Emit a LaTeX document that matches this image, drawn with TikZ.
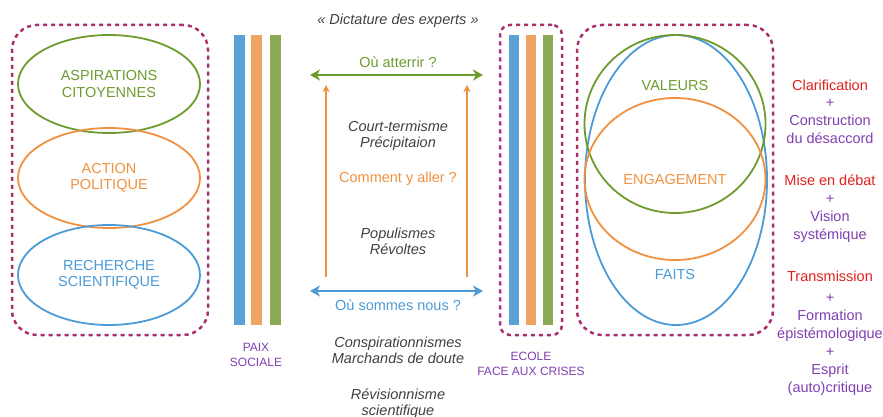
\documentclass[tikz,border=0pt]{standalone}
\usepackage{fontspec}
\setmainfont{Liberation Sans}
\usetikzlibrary{arrows.meta}
\usetikzlibrary{shapes,positioning}

\definecolor{vertc}{HTML}{6E9B2F}
\definecolor{vertbarre}{HTML}{8AAA58}
\definecolor{orangec}{HTML}{EF9140}
\definecolor{orangebarre}{HTML}{EFA462}
\definecolor{bleuc}{HTML}{4C9AD6}
\definecolor{bleubarre}{HTML}{5AA1D6}
\definecolor{violetc}{HTML}{8040B0}
\definecolor{rougec}{HTML}{E0201C}
\definecolor{grisc}{HTML}{404040}

\newcommand{\policegrande}{\fontsize{14.5}{16.5}\selectfont}
\newcommand{\policepetite}{\fontsize{12}{15}\selectfont}

\begin{document}
\begin{tikzpicture}[x=1pt,y=-1pt]
\tikzset{
    cadre/.style={
        rectangle,
        rounded corners=#1,
        preaction={draw=violetc, line width=2.5pt},
        draw=rougec,
        line width=1pt,
        dash pattern=on 4pt off 4pt,
        inner sep=0pt,
    },
    cadre/.default=25pt,
    bulle/.style={
        draw=#1,
        ellipse,
        line width=1.8pt,
        inner sep=0pt,
        text=#1,
        align=center,
        font=\policegrande,
    },
    barre/.style={
        fill=#1,
        rectangle,
        inner sep=0pt,
        minimum width=11pt,
        minimum height=290pt,
    },
    titre/.style={
        text=#1,
        font=\policegrande,
        align=center,
    },
    commentaire/.style={
        text=grisc,
        font=\policegrande\itshape,
        align=center,
    },
    etiquette/.style={
        text=violetc,
        font=\policepetite,
        align=center,
    },
    fleche/.style={
        draw=#1,
        line width=2.8pt,
        {Stealth[length=10pt,width=11pt,inset=3pt]}-{Stealth[length=10pt,width=11pt,inset=3pt]},
    },
    montee/.style={
        draw=orangec,
        line width=1.8pt,
        -{Stealth[length=7pt,width=7pt,inset=2pt]},
    },
}
\useasboundingbox (0,0) rectangle (883,417);

% cadre de gauche
\node[cadre, minimum width=196pt, minimum height=310pt] (societe) at (110,180) {};
\node[bulle=vertc, minimum width=182pt, minimum height=98pt] (aspirations) at (109,84) {ASPIRATIONS\\CITOYENNES};
\node[bulle=orangec, minimum width=182pt, minimum height=100pt] (action) at (109,178) {ACTION\\POLITIQUE};
\node[bulle=bleuc, minimum width=182pt, minimum height=100pt] (recherche) at (109,275) {RECHERCHE\\SCIENTIFIQUE};

% barres
\foreach \x/\c/\n in {239/bleubarre/a, 256/orangebarre/b, 275/vertbarre/c}
    \node[barre=\c] (paix-\n) at (\x,180) {};
\node[etiquette] (paix) at (256,355) {PAIX\\SOCIALE};

\node[cadre=10pt, minimum width=62pt, minimum height=310pt] (ecole) at (531,180) {};
\foreach \x/\c/\n in {514/bleubarre/a, 531/orangebarre/b, 547.5/vertbarre/c}
    \node[barre=\c, minimum width=10pt] (ecole-\n) at (\x,180) {};
\node[etiquette] (ecole-txt) at (531,364) {ECOLE\\FACE AUX CRISES};

% centre
\node[commentaire] (dictature) at (398,21) {«~Dictature des experts~»};
\coordinate (haut-g) at (310,75);
\coordinate (haut-d) at (483,75);
\coordinate (bas-g) at (310,291);
\coordinate (bas-d) at (483,291);
\coordinate (pied-g) at (326,277);
\coordinate (tete-g) at (326,85);
\coordinate (pied-d) at (467,277);
\coordinate (tete-d) at (467,85);
\draw[fleche=vertc] (haut-g) -- (haut-d);
\draw[fleche=bleuc] (bas-g) -- (bas-d);
\draw[montee] (pied-g) -- (tete-g);
\draw[montee] (pied-d) -- (tete-d);
\node[titre=vertc] (atterrir) at (398,62) {Où atterrir ?};
\node[titre=bleuc] (sommes) at (398,305) {Où sommes nous ?};
\node[titre=orangec] (aller) at (398,179) {Comment y aller ?};
\node[commentaire] (court) at (398,136) {Court-termisme\\Précipitaion};
\node[commentaire] (populismes) at (398,241.5) {Populismes\\Révoltes};
\node[commentaire] (conspi) at (398,350.5) {Conspirationnismes\\Marchands de doute};
\node[commentaire] (revision) at (398,403.5) {Révisionnisme\\scientifique};

% cadre de droite
\node[cadre, minimum width=196pt, minimum height=310pt] (ecole-crise) at (675,180) {};
\node[bulle=bleuc, minimum width=182pt, minimum height=290pt] (faits-ell) at (676,180) {};
\node[bulle=vertc, minimum width=181pt, minimum height=178pt] (valeurs-ell) at (675,124) {};
\node[bulle=orangec, minimum width=181pt, minimum height=162pt] (engagement-ell) at (675,179) {};
\node[titre=vertc] (valeurs) at (675,86) {VALEURS};
\node[titre=orangec] (engagement) at (675,180) {ENGAGEMENT};
\node[titre=bleuc] (faits) at (675,275) {FAITS};

% colonne des leviers
\node[titre=violetc, font=\fontsize{14.5}{17.7}\selectfont] (clarif) at (830,111.5)
    {\textcolor{rougec}{Clarification}\\+\\Construction\\du désaccord};
\node[titre=violetc, font=\fontsize{14.5}{18}\selectfont] (debat) at (830,209)
    {\textcolor{rougec}{Mise en débat}\\+\\Vision\\systémique};
\node[titre=violetc, font=\fontsize{14.5}{18}\selectfont] (transmission) at (830,333.5)
    {\textcolor{rougec}{Transmission}\\[3pt]+\\Formation\\épistémologique\\+\\Esprit\\(auto)critique};
\end{tikzpicture}
\end{document}
